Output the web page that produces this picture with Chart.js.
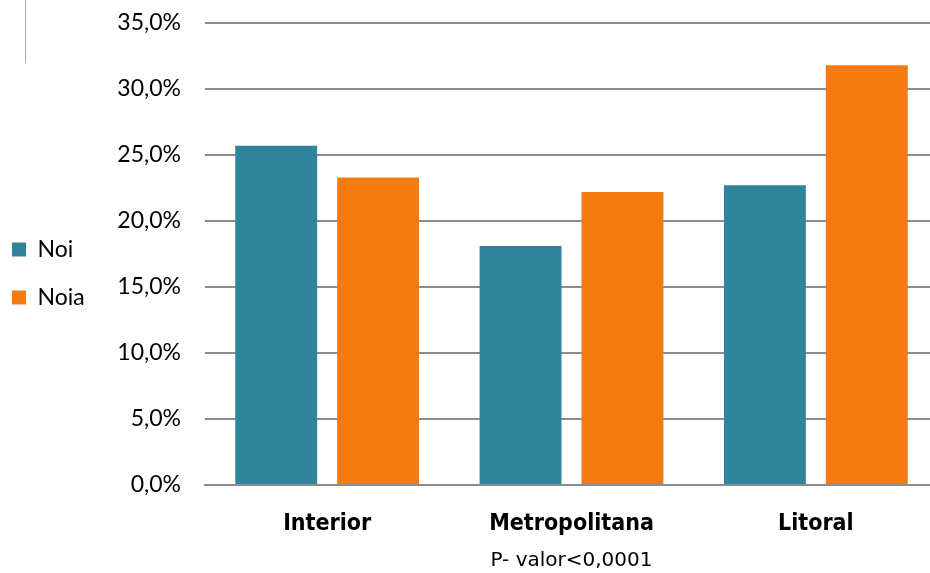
<!DOCTYPE html>
<html>
<head>
<meta charset="utf-8">
<script src="https://cdn.jsdelivr.net/npm/chart.js@4.4.1/dist/chart.umd.min.js"></script>
<style>
  html, body { margin: 0; padding: 0; background: #fff; overflow: hidden; }
  #wrap { position: relative; width: 930px; height: 573px; overflow: hidden; }
  #c { position: absolute; left: 0; top: 0; }
  #deco { position: absolute; left: 25px; top: 0; width: 1px; height: 63px; background: #a6a6a6; }
</style>
</head>
<body>
<div id="wrap">
  <canvas id="c" width="938" height="573"></canvas>
  <div id="deco"></div>
</div>
<script>
const categories = ["Interior", "Metropolitana", "Litoral"];
const noiValues = [25.7, 18.1, 22.7];
const noiaValues = [23.3, 22.2, 31.8];
const seriesNames = ["Noi", "Noia"];
const axisTitle = "P- valor<0,0001";

const gridColor = "#8c8c8c";
const PLOT_LEFT = 205;

const legendShift = {
  id: "legendShift",
  afterLayout(chart) {
    const l = chart.legend;
    if (!l) return;
    const w = l.right - l.left;
    const h = l.bottom - l.top;
    l.left = -13; l.right = l.left + w;
    l.top = l.top - 24.5; l.bottom = l.top + h;
  }
};

new Chart(document.getElementById("c"), {
  type: "bar",
  data: {
    labels: categories,
    datasets: [
      { label: seriesNames[0], data: noiValues, backgroundColor: "#31849b", borderWidth: 0,
        categoryPercentage: 0.834, barPercentage: 0.804 },
      { label: seriesNames[1], data: noiaValues, backgroundColor: "#f57a12", borderWidth: 0,
        categoryPercentage: 0.834, barPercentage: 0.804 }
    ]
  },
  plugins: [legendShift],
  options: {
    responsive: false,
    animation: false,
    devicePixelRatio: 1,
    layout: { padding: { left: 0, right: 0, top: 23, bottom: 0 } },
    plugins: {
      tooltip: { enabled: false },
      legend: {
        position: "left",
        labels: {
          boxWidth: 14, boxHeight: 14, padding: 25,
          color: "#000",
          font: { family: "Lato, 'Open Sans', sans-serif", size: 23 }
        }
      }
    },
    scales: {
      x: {
        grid: { display: false },
        border: { display: true, color: gridColor, width: 2 },
        ticks: {
          color: "#000", padding: 17,
          font: { family: "'Liberation Sans Narrow', 'DejaVu Sans Condensed', 'Open Sans', sans-serif", size: 23, weight: "bold" }
        },
        title: {
          display: true, text: axisTitle, color: "#000",
          font: { family: "'DejaVu Sans', sans-serif", size: 20 },
          padding: { top: 4, bottom: 0 }
        },
        afterFit: (s) => { s.height = 88; }
      },
      y: {
        min: 0, max: 35,
        ticks: {
          stepSize: 5, color: "#000", padding: 24,
          font: { family: "Lato, 'Open Sans', sans-serif", size: 23 },
          callback: (v) => v.toFixed(1).replace(".", ",") + "%"
        },
        grid: { color: gridColor, lineWidth: 2, drawTicks: false },
        border: { display: false },
        afterFit: (s) => {
          const lw = s.chart.legend ? s.chart.legend.width : 0;
          s.width = PLOT_LEFT - lw;
          s.paddingTop = 0;
          s.paddingBottom = 0;
        }
      }
    }
  }
});
</script>
</body>
</html>
